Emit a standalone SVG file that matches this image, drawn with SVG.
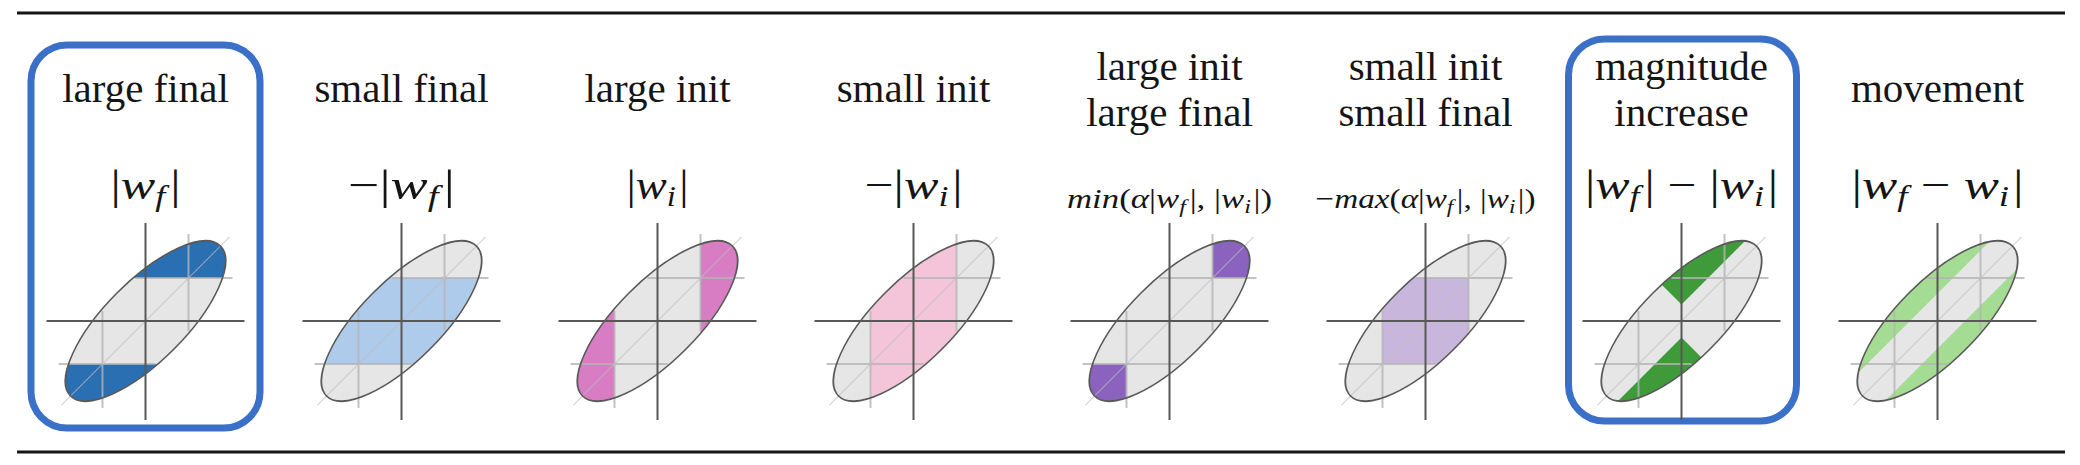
<svg xmlns="http://www.w3.org/2000/svg" xmlns:xlink="http://www.w3.org/1999/xlink" width="2080" height="465" viewBox="0 0 2080 465">
<style>
.t{font-family:"Liberation Serif","Times New Roman",serif;font-size:41px;text-anchor:middle;fill:#151515}
.m{font-family:"Liberation Serif","Times New Roman",serif;font-size:42px;text-anchor:middle;fill:#151515}
.ms{font-size:28px}
.i{font-style:italic}
.s{font-style:italic;font-size:70%}
.hl{fill:none;stroke:#3a70c8;stroke-width:7}
.rule{stroke:#151515;stroke-width:3}
</style>
<defs>
<clipPath id="ell"><ellipse cx="0" cy="0" rx="106" ry="40" transform="rotate(-45)"/></clipPath>
<ellipse id="ellFill" cx="0" cy="0" rx="106" ry="40" transform="rotate(-45)" fill="#e6e6e6"/>
<g id="lines">
<path d="M-10,-43H87M-87,43H10M43,-87V10M-43,87V-10" stroke="#b4b4b4" stroke-width="2" fill="none" opacity="0.8"/>
<path d="M-84,84L84,-84" stroke="#bdbdbd" stroke-width="1" fill="none"/>
<path d="M-99,0H99M0,-98V99" stroke="#585858" stroke-width="2" fill="none"/>
<ellipse cx="0" cy="0" rx="106" ry="40" transform="rotate(-45)" fill="none" stroke="#595959" stroke-width="1.6"/>
</g>
</defs>
<rect width="2080" height="465" fill="#fff"/>
<line class="rule" x1="17" y1="13" x2="2065" y2="13"/>
<line class="rule" x1="17" y1="452" x2="2065" y2="452"/>

<g id="n1-large-final" transform="translate(145.5,0)">
<rect class="hl" x="-114.5" y="45" width="229" height="383" rx="36"/>
<text class="t" x="0" y="102">large final</text>
<text class="m" x="0" y="199" textLength="70" lengthAdjust="spacingAndGlyphs">|<tspan class="i">w</tspan><tspan class="s" dy="7">f</tspan><tspan dy="-7" dx="4">|</tspan></text>
<g transform="translate(0,321)">
<use xlink:href="#ellFill"/>
<g clip-path="url(#ell)" fill="#2b6fb3"><rect x="-120" y="-120" width="240" height="77"/><rect x="-120" y="43" width="240" height="77"/></g>
<use xlink:href="#lines"/>
</g>
</g>

<g id="n2-small-final" transform="translate(401.5,0)">
<text class="t" x="0" y="102">small final</text>
<text class="m" x="0" y="199" textLength="107" lengthAdjust="spacingAndGlyphs">−|<tspan class="i">w</tspan><tspan class="s" dy="7">f</tspan><tspan dy="-7" dx="4">|</tspan></text>
<g transform="translate(0,321)">
<use xlink:href="#ellFill"/>
<g clip-path="url(#ell)" fill="#afcbeb"><rect x="-120" y="-43" width="240" height="86"/></g>
<use xlink:href="#lines"/>
</g>
</g>

<g id="n3-large-init" transform="translate(657.5,0)">
<text class="t" x="0" y="102">large init</text>
<text class="m" x="0" y="199" textLength="62" lengthAdjust="spacingAndGlyphs">|<tspan class="i">w</tspan><tspan class="s" dy="7">i</tspan><tspan dy="-7" dx="3">|</tspan></text>
<g transform="translate(0,321)">
<use xlink:href="#ellFill"/>
<g clip-path="url(#ell)" fill="#d87cc4"><rect x="-120" y="-120" width="77" height="240"/><rect x="43" y="-120" width="77" height="240"/></g>
<use xlink:href="#lines"/>
</g>
</g>

<g id="n4-small-init" transform="translate(913.5,0)">
<text class="t" x="0" y="102">small init</text>
<text class="m" x="0" y="199" textLength="98" lengthAdjust="spacingAndGlyphs">−|<tspan class="i">w</tspan><tspan class="s" dy="7">i</tspan><tspan dy="-7" dx="3">|</tspan></text>
<g transform="translate(0,321)">
<use xlink:href="#ellFill"/>
<g clip-path="url(#ell)" fill="#f4c5d9"><rect x="-43" y="-120" width="86" height="240"/></g>
<use xlink:href="#lines"/>
</g>
</g>

<g id="n5-large-init-large-final" transform="translate(1169.5,0)">
<text class="t" x="0" y="80">large init</text>
<text class="t" x="0" y="126">large final</text>
<text class="m ms" x="0" y="208" textLength="205" lengthAdjust="spacingAndGlyphs"><tspan class="i">min</tspan>(<tspan class="i">α</tspan>|<tspan class="i">w</tspan><tspan class="s" dy="5">f</tspan><tspan dy="-5" dx="3">|, |</tspan><tspan class="i">w</tspan><tspan class="s" dy="5">i</tspan><tspan dy="-5" dx="2">|)</tspan></text>
<g transform="translate(0,321)">
<use xlink:href="#ellFill"/>
<g clip-path="url(#ell)" fill="#8b63bf"><rect x="43" y="-120" width="77" height="77"/><rect x="-120" y="43" width="77" height="77"/></g>
<use xlink:href="#lines"/>
</g>
</g>

<g id="n6-small-init-small-final" transform="translate(1425.5,0)">
<text class="t" x="0" y="80">small init</text>
<text class="t" x="0" y="126">small final</text>
<text class="m ms" x="0" y="208" textLength="220" lengthAdjust="spacingAndGlyphs">−<tspan class="i">max</tspan>(<tspan class="i">α</tspan>|<tspan class="i">w</tspan><tspan class="s" dy="5">f</tspan><tspan dy="-5" dx="3">|, |</tspan><tspan class="i">w</tspan><tspan class="s" dy="5">i</tspan><tspan dy="-5" dx="2">|)</tspan></text>
<g transform="translate(0,321)">
<use xlink:href="#ellFill"/>
<g clip-path="url(#ell)" fill="#c8b6dd"><rect x="-43" y="-43" width="86" height="86"/></g>
<use xlink:href="#lines"/>
</g>
</g>

<g id="n7-magnitude-increase" transform="translate(1681.5,0)">
<rect class="hl" x="-113" y="39" width="228" height="382" rx="36"/>
<text class="t" x="0" y="80">magnitude</text>
<text class="t" x="0" y="126">increase</text>
<text class="m" x="0" y="199" textLength="193" lengthAdjust="spacingAndGlyphs">|<tspan class="i">w</tspan><tspan class="s" dy="7">f</tspan><tspan dy="-7" dx="4">| − |</tspan><tspan class="i">w</tspan><tspan class="s" dy="7">i</tspan><tspan dy="-7" dx="3">|</tspan></text>
<g transform="translate(0,321)">
<use xlink:href="#ellFill"/>
<g clip-path="url(#ell)" fill="#3f9b3a"><polygon points="0,-16.5 130,-146.5 -130,-146.5"/><polygon points="0,16.5 130,146.5 -130,146.5"/></g>
<use xlink:href="#lines"/>
</g>
</g>

<g id="n8-movement" transform="translate(1937.5,0)">
<text class="t" x="0" y="102">movement</text>
<text class="m" x="0" y="199" textLength="172" lengthAdjust="spacingAndGlyphs">|<tspan class="i">w</tspan><tspan class="s" dy="7">f</tspan><tspan dy="-7"> − </tspan><tspan class="i">w</tspan><tspan class="s" dy="7">i</tspan><tspan dy="-7" dx="3">|</tspan></text>
<g transform="translate(0,321)">
<use xlink:href="#ellFill"/>
<g clip-path="url(#ell)" fill="#a3dc92"><polygon points="150,-122.5 150,150 -122.5,150"/><polygon points="-150,122.5 -150,-150 122.5,-150"/></g>
<use xlink:href="#lines"/>
</g>
</g>

<g id="connectors"></g>
</svg>
